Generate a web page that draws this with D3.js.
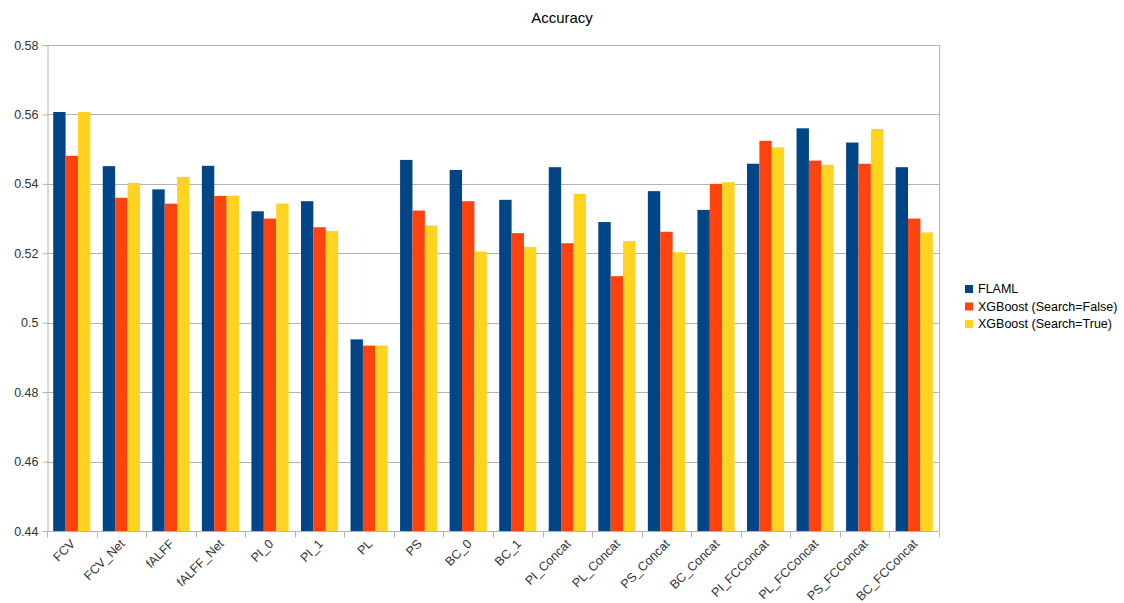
<!DOCTYPE html>
<html>
<head>
<meta charset="utf-8">
<script src="https://cdn.jsdelivr.net/npm/d3@7"></script>
<style>
  html, body { margin: 0; padding: 0; background: #fff; }
  svg { display: block; font-family: "Liberation Sans", Arial, sans-serif; }
</style>
</head>
<body>
<svg id="chart" width="1124" height="603"></svg>
<script>
// Accuracy per feature set for three models
const categories = ["FCV", "FCV_Net", "fALFF", "fALFF_Net", "PI_0", "PI_1", "PL", "PS",
  "BC_0", "BC_1", "PI_Concat", "PL_Concat", "PS_Concat", "BC_Concat",
  "PI_FCConcat", "PL_FCConcat", "PS_FCConcat", "BC_FCConcat"];
const seriesNames = ["FLAML", "XGBoost (Search=False)", "XGBoost (Search=True)"];
const flaml = [0.5607, 0.5451, 0.5384, 0.5452, 0.5321, 0.5350, 0.4952, 0.5469,
  0.5440, 0.5354, 0.5448, 0.5290, 0.5379, 0.5325, 0.5458, 0.5560, 0.5519, 0.5448];
const xgbFalse = [0.5481, 0.5360, 0.5343, 0.5365, 0.5300, 0.5275, 0.4934, 0.5323,
  0.5350, 0.5258, 0.5229, 0.5134, 0.5262, 0.5400, 0.5524, 0.5467, 0.5458, 0.5300];
const xgbTrue = [0.5607, 0.5403, 0.5420, 0.5366, 0.5343, 0.5264, 0.4934, 0.5280,
  0.5205, 0.5218, 0.5371, 0.5235, 0.5203, 0.5405, 0.5505, 0.5455, 0.5558, 0.5260];
const yTicks = [0.44, 0.46, 0.48, 0.5, 0.52, 0.54, 0.56, 0.58];
const colors = ["#004586", "#ff420e", "#ffd320"];

const values = [flaml, xgbFalse, xgbTrue];

const svg = d3.select("#chart");
const plotLeft = 47, plotRight = 939, plotTop = 45, plotBottom = 531;

const x = d3.scaleBand().domain(categories).range([plotLeft, plotRight])
  .paddingInner(0.25).paddingOuter(0.125);
const xs = d3.scaleBand().domain(d3.range(seriesNames.length)).range([0, x.bandwidth()]);
const y = d3.scaleLinear().domain([0.44, 0.58]).range([plotBottom, plotTop]);

// horizontal gridlines
svg.append("g").selectAll("line").data(yTicks).join("line")
  .attr("x1", plotLeft).attr("x2", plotRight)
  .attr("y1", d => Math.round(y(d)) + 0.5).attr("y2", d => Math.round(y(d)) + 0.5)
  .attr("stroke", "#b3b3b3").attr("stroke-width", 1);

// right border of the plot area
svg.append("line").attr("x1", plotRight + 0.5).attr("x2", plotRight + 0.5)
  .attr("y1", plotTop).attr("y2", plotBottom).attr("stroke", "#b3b3b3");

// bars
const groups = svg.append("g").selectAll("g").data(categories).join("g")
  .attr("transform", d => `translate(${x(d)},0)`);
groups.selectAll("rect").data((c, i) => values.map((s, k) => ({ k, v: s[i] }))).join("rect")
  .attr("x", d => xs(d.k))
  .attr("width", xs.bandwidth())
  .attr("y", d => y(d.v))
  .attr("height", d => y(0.44) - y(d.v))
  .attr("fill", d => colors[d.k]);

// y axis
const yAxis = d3.axisLeft(y).tickValues(yTicks).tickSize(5).tickPadding(4)
  .tickFormat(d => String(+d.toFixed(2)));
const gy = svg.append("g").attr("transform", `translate(${plotLeft + 0.5},0)`).call(yAxis);
gy.select(".domain").attr("stroke", "#b3b3b3");
gy.selectAll(".tick line").attr("stroke", "#b3b3b3");
gy.selectAll(".tick text").attr("fill", "#333").style("font-size", "12.5px")
  .style("font-family", "Liberation Sans, Arial, sans-serif");

// x axis: ticks sit on the category boundaries
const gx = svg.append("g").attr("transform", `translate(0,${plotBottom + 0.5})`);
gx.append("line").attr("x1", plotLeft).attr("x2", plotRight).attr("stroke", "#b3b3b3");
gx.selectAll("line.tk").data(d3.range(categories.length + 1)).join("line").attr("class", "tk")
  .attr("x1", i => Math.round(x(categories[0]) - x.step() * 0.125 + i * x.step()) + 0.5)
  .attr("x2", i => Math.round(x(categories[0]) - x.step() * 0.125 + i * x.step()) + 0.5)
  .attr("y1", 0).attr("y2", 6).attr("stroke", "#b3b3b3");
gx.selectAll("text").data(categories).join("text")
  .attr("transform", d => `translate(${x(d) + x.bandwidth() / 2 + 1},10) rotate(-45)`)
  .attr("text-anchor", "end")
  .attr("dy", "0.35em")
  .attr("fill", "#333")
  .style("font-size", "12.5px")
  .text(d => d);

// title
svg.append("text").attr("x", 562).attr("y", 23).attr("text-anchor", "middle")
  .attr("fill", "#000").style("font-size", "15px").text("Accuracy");

// legend
const lg = svg.append("g").attr("transform", "translate(965,289)");
const rows = lg.selectAll("g").data(seriesNames).join("g")
  .attr("transform", (d, i) => `translate(0,${i * 17.5})`);
rows.append("rect").attr("x", 0).attr("y", -4).attr("width", 8).attr("height", 8)
  .attr("fill", (d, i) => colors[i]);
rows.append("text").attr("x", 13).attr("y", 0).attr("dy", "0.35em")
  .attr("fill", "#000").style("font-size", "12.5px").text(d => d);
</script>
</body>
</html>
